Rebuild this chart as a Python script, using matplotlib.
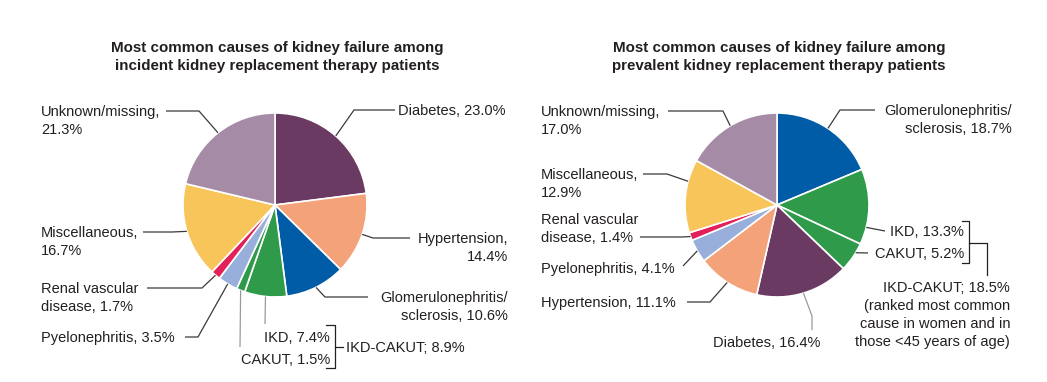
import numpy as np
import matplotlib.pyplot as plt

plt.rcParams['font.family'] = ['Liberation Sans', 'DejaVu Sans']

# data
incident_causes = ['Diabetes', 'Hypertension', 'Glomerulonephritis/\nsclerosis', 'IKD', 'CAKUT',
                   'Pyelonephritis', 'Renal vascular\ndisease', 'Miscellaneous', 'Unknown/missing']
incident_pct = [23.0, 14.4, 10.6, 7.4, 1.5, 3.5, 1.7, 16.7, 21.3]
incident_ikd_cakut = 8.9

prevalent_causes = ['Glomerulonephritis/\nsclerosis', 'IKD', 'CAKUT', 'Diabetes', 'Hypertension',
                    'Pyelonephritis', 'Renal vascular\ndisease', 'Miscellaneous', 'Unknown/missing']
prevalent_pct = [18.7, 13.3, 5.2, 16.4, 11.1, 4.1, 1.4, 12.9, 17.0]
prevalent_ikd_cakut = 18.5

titles = ['Most common causes of kidney failure among\nincident kidney replacement therapy patients',
          'Most common causes of kidney failure among\nprevalent kidney replacement therapy patients']

colors = {
    'Diabetes': '#6B3A63',
    'Hypertension': '#F3A279',
    'Glomerulonephritis/\nsclerosis': '#005CA7',
    'IKD': '#2E9A4A',
    'CAKUT': '#2E9A4A',
    'Pyelonephritis': '#98AEDB',
    'Renal vascular\ndisease': '#E2215A',
    'Miscellaneous': '#F8C55B',
    'Unknown/missing': '#A68BA6',
}

TXT = '#231F20'
LINE = '#3a3a3a'
GRAY = '#9a9a9a'
FS = 10.5
LSTEP = 18  # pixel distance between text lines

# label layout: cause -> (format, text x, first-line y, ha, leader points, anchor fraction in wedge, line colour)
left_layout = {
    'Diabetes': ('{n}, {v}', 398, 110, 'left', [(395, 110), (354, 110)], 0.5, LINE),
    'Hypertension': ('{n},\n{v}', 508, 238, 'right', [(410, 238), (373, 238)], 0.5, LINE),
    'Glomerulonephritis/\nsclerosis': ('{n}, {v}', 508, 297, 'right', [(368, 297), (325, 297)], 0.5, LINE),
    'IKD': ('{n}, {v}', 330, 337, 'right', [(265, 324)], 0.5, GRAY),
    'CAKUT': ('{n}, {v}', 330, 359, 'right', [(240, 347)], 0.5, GRAY),
    'Pyelonephritis': ('{n}, {v}', 41, 337, 'left', [(185, 337), (198, 337)], 0.5, LINE),
    'Renal vascular\ndisease': ('{n}, {v}', 41, 288, 'left', [(147, 288), (202, 288)], 0.5, LINE),
    'Miscellaneous': ('{n},\n{v}', 41, 232, 'left', [(143, 232), (172, 232)], 0.5, LINE),
    'Unknown/missing': ('{n},\n{v}', 41, 111, 'left', [(166, 111), (199, 111)], 0.5, LINE),
}
right_layout = {
    'Glomerulonephritis/\nsclerosis': ('{n}, {v}', 1012, 110, 'right', [(875, 110), (840, 110)], 0.5, LINE),
    'IKD': ('{n}, {v}', 964, 231, 'right', [(885, 231)], 0.77, LINE),
    'CAKUT': ('{n}, {v}', 964, 253, 'right', [(868, 253)], 0.33, LINE),
    'Diabetes': ('{n}, {v}', 713, 342, 'left', [(812, 330), (812, 316)], 0.5, GRAY),
    'Hypertension': ('{n}, {v}', 541, 302, 'left', [(687, 302), (710, 302)], 0.5, LINE),
    'Pyelonephritis': ('{n}, {v}', 541, 268, 'left', [(683, 266)], 0.5, LINE),
    'Renal vascular\ndisease': ('{n}, {v}', 541, 219, 'left', [(640, 237), (682, 237)], 0.5, LINE),
    'Miscellaneous': ('{n},\n{v}', 541, 174, 'left', [(643, 174), (667, 174)], 0.7, LINE),
    'Unknown/missing': ('{n},\n{v}', 541, 111, 'left', [(668, 111), (723, 111)], 0.5, LINE),
}

R = 92
fig = plt.figure(figsize=(10.47, 3.82), dpi=100)
ax = fig.add_axes([0, 0, 1, 1])


def put_text(x, y, s, ha, **kw):
    # y is the centre of the first line; baseline alignment uses the last line
    n = s.count('\n')
    ax.text(x, y + 5 + n * LSTEP, s, ha=ha, va='baseline', fontsize=FS, color=TXT,
            linespacing=1.36, multialignment=ha, **kw)


def draw_pie(causes, pct, center, layout, title):
    cx, cy = center
    # y axis is inverted, so counterclock in data = clockwise on screen
    ax.pie(pct, colors=[colors[c] for c in causes], startangle=-90, counterclock=True,
           center=center, radius=R, frame=True,
           wedgeprops=dict(edgecolor='white', linewidth=1.2))
    fr = np.array(pct) / np.sum(pct)
    starts = np.concatenate([[0], np.cumsum(fr)[:-1]])
    for c, v, s, f in zip(causes, pct, starts, fr):
        fmt, tx, ty, ha, pts, af, lc = layout[c]
        th = 2 * np.pi * (s + af * f)
        anchor = (cx + R * np.sin(th), cy - R * np.cos(th))
        xs = [p[0] for p in pts] + [anchor[0]]
        ys = [p[1] for p in pts] + [anchor[1]]
        ax.plot(xs, ys, color=lc, lw=0.9, solid_capstyle='butt')
        put_text(tx, ty, fmt.format(n=c, v=f'{v:.1f}%'), ha)
    ax.text(cx + 2, 41, title, ha='center', va='top', fontsize=10.9, fontweight='bold',
            color=TXT, linespacing=1.32)


draw_pie(incident_causes, incident_pct, (275, 205), left_layout, titles[0])
draw_pie(prevalent_causes, prevalent_pct, (777, 205), right_layout, titles[1])

# IKD-CAKUT bracket, left
ax.plot([326, 335, 335, 326], [325, 325, 368, 368], color='#222222', lw=0.9)
ax.plot([335, 343], [347, 347], color='#222222', lw=0.9)
put_text(346, 347, f'IKD-CAKUT; {incident_ikd_cakut:.1f}%', 'left')

# IKD-CAKUT bracket, right
ax.plot([962, 969, 969, 962], [221, 221, 263, 263], color='#222222', lw=0.9)
ax.plot([969, 987, 987], [243, 243, 275], color='#222222', lw=0.9)
put_text(1010, 287, f'IKD-CAKUT; {prevalent_ikd_cakut:.1f}%\n(ranked most common\n'
         'cause in women and in\nthose <45 years of age)', 'right')

ax.set_xlim(0, 1047)
ax.set_ylim(382, 0)
ax.set_aspect('equal')
ax.axis('off')

fig.savefig('out.png', dpi=100, facecolor='white')
